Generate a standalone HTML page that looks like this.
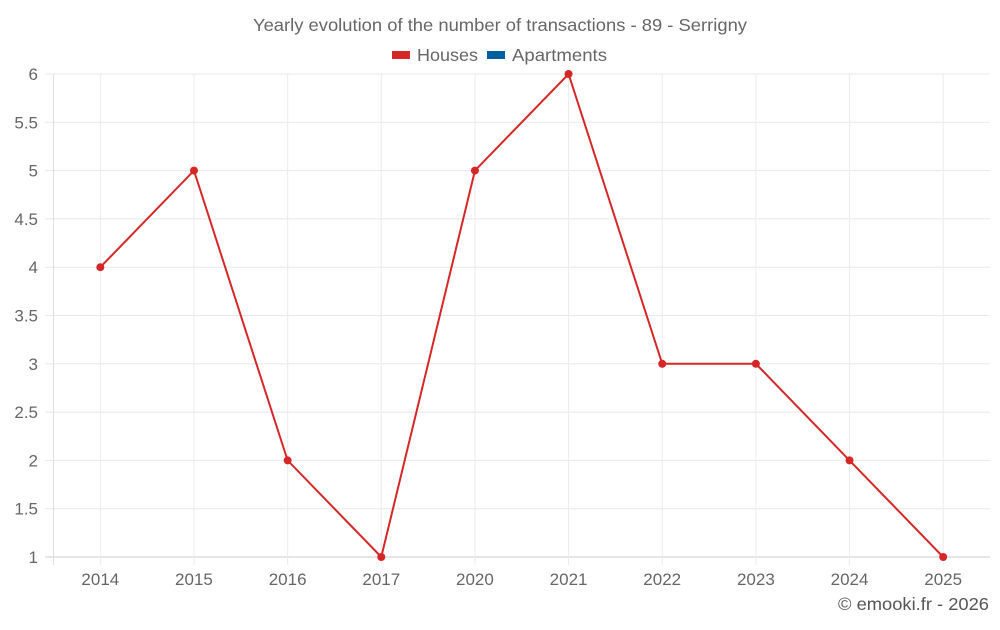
<!DOCTYPE html>
<html><head><meta charset="utf-8"><style>
body{margin:0;background:#fff;width:1000px;height:625px;overflow:hidden;font-family:"Liberation Sans",sans-serif}
</style></head><body>
<svg id="chart" width="1000" height="625" xmlns="http://www.w3.org/2000/svg">
<text x="253" y="31" textLength="494" lengthAdjust="spacingAndGlyphs" font-size="17.5" fill="#666">Yearly evolution of the number of transactions - 89 - Serrigny</text>
<g>
<g><rect x="392" y="51" width="18" height="8" fill="#d62728"/><text x="417" y="61" textLength="61" lengthAdjust="spacingAndGlyphs" font-size="17.5" fill="#666">Houses</text></g>
<g><rect x="487" y="51" width="18" height="8" fill="#0060a0"/><text x="512" y="61" textLength="95" lengthAdjust="spacingAndGlyphs" font-size="17.5" fill="#666">Apartments</text></g>
</g>
<g id="grid"></g><g id="axes"></g><g id="series"></g>
<text x="838" y="610" textLength="151" lengthAdjust="spacingAndGlyphs" font-size="17.5" fill="#555">© emooki.fr - 2026</text>
</svg>
<script>
const categories=["2014","2015","2016","2017","2020","2021","2022","2023","2024","2025"];
const houses=[4,5,2,1,5,6,3,3,2,1];
const yTicks=[1,1.5,2,2.5,3,3.5,4,4.5,5,5.5,6];
const NS="http://www.w3.org/2000/svg";
const L=53.5,R=990,T=74,B=557,yMin=1,yMax=6;
const bw=(R-L)/categories.length;
function x(i){return L+bw*(i+0.5);}
function y(v){return B-(v-yMin)/(yMax-yMin)*(B-T);}
function mk(tag,attrs,parent){const e=document.createElementNS(NS,tag);for(const k in attrs)e.setAttribute(k,attrs[k]);parent.appendChild(e);return e;}
const grid=document.getElementById('grid'),axes=document.getElementById('axes'),ser=document.getElementById('series');
yTicks.forEach(v=>{
 const l=mk('line',{x1:45,x2:R,y1:y(v),y2:y(v),stroke:v===yMin?'#ccc':'#e8e8e8','stroke-width':1},grid);
 
 
 const t=mk('text',{x:38,y:y(v)+6,'text-anchor':'end','font-size':17,fill:'#666'},axes);
 t.textContent=String(v);
 
 
});
const ax=mk('line',{x1:L,x2:L,y1:T,y2:B+8,stroke:'#e0e0e0'},grid);


categories.forEach((c,i)=>{
 const l=mk('line',{x1:x(i),x2:x(i),y1:T,y2:B+8,stroke:'#ececec'},grid);
 
 
 const t=mk('text',{x:x(i),y:585,'text-anchor':'middle','font-size':17,fill:'#666'},axes);
 t.textContent=c;
 
 
});
const p=mk('polyline',{points:houses.map((v,i)=>x(i)+','+y(v)).join(' '),fill:'none',stroke:'#d62728','stroke-width':2},ser);


houses.forEach((v,i)=>{
 const c=mk('circle',{cx:x(i),cy:y(v),r:4,fill:'#d62728'},ser);
 
 
});
</script>
</body></html>
